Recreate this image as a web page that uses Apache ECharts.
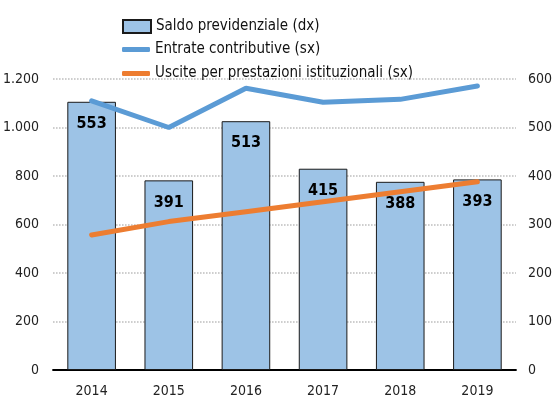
<!DOCTYPE html>
<html>
<head>
<meta charset="utf-8">
<script src="https://cdn.jsdelivr.net/npm/echarts@6/dist/echarts.min.js"></script>
<style>
  html, body { margin: 0; padding: 0; background: #fff; }
  #chart { width: 555px; height: 403px; }
</style>
</head>
<body>
<div id="chart"></div>
<script>
// dati
const years = ['2014', '2015', '2016', '2017', '2018', '2019']
const saldo = [553, 391, 513, 415, 388, 393]            // asse destro
const entrate = [1110, 1000, 1162, 1104, 1116, 1171]    // asse sinistro
const uscite = [557, 612, 653, 694, 735, 776]           // asse sinistro

const FONT = '"Liberation Sans Narrow", "DejaVu Sans Condensed", "Liberation Sans", sans-serif'

const fmt = v => String(v).replace(/\B(?=(\d{3})+(?!\d))/g, '.')

const chart = echarts.init(document.getElementById('chart'))

// una legenda per riga, così le icone delle linee restano barre spesse
const legendText = { fontSize: 15, color: '#111', fontFamily: FONT }
const mkLegend = (name, top, h, icon) => ({
  left: 117,
  top: top,
  itemWidth: 28,
  itemHeight: h,
  icon: icon,
  textStyle: legendText,
  data: [name]
})

const option = {
  animation: false,
  textStyle: { fontFamily: FONT },
  grid: { left: 53, right: 36, top: 79, bottom: 33 },
  legend: [
    mkLegend('Saldo previdenziale (dx)', 14, 13, 'rect'),
    mkLegend('Entrate contributive (sx)', 37, 5, 'roundRect'),
    mkLegend('Uscite per prestazioni istituzionali (sx)', 61, 5, 'roundRect')
  ],
  xAxis: {
    type: 'category',
    data: years,
    axisTick: { show: false },
    axisLine: { lineStyle: { color: '#000', width: 2 } },
    axisLabel: { color: '#222', fontSize: 14, margin: 14 }
  },
  yAxis: [
    {
      type: 'value',
      min: 0, max: 1200, interval: 200,
      axisLine: { show: false },
      axisTick: { show: false },
      axisLabel: { color: '#222', fontSize: 14, margin: 14, formatter: fmt },
      splitLine: { lineStyle: { type: 'dotted', color: '#bbb', width: 1.5 } }
    },
    {
      type: 'value',
      min: 0, max: 600, interval: 100,
      axisLine: { show: false },
      axisTick: { show: false },
      axisLabel: { color: '#222', fontSize: 14, margin: 12 },
      splitLine: { show: false }
    }
  ],
  series: [
    {
      name: 'Saldo previdenziale (dx)',
      type: 'bar',
      yAxisIndex: 1,
      data: saldo,
      barWidth: '63%',
      itemStyle: { color: '#9DC3E6', borderColor: '#1a1a1a', borderWidth: 1 },
      label: {
        show: true,
        position: 'insideTop',
        distance: 14,
        color: '#000',
        fontWeight: 'bold',
        fontSize: 16,
        fontFamily: FONT
      },
      z: 1
    },
    {
      name: 'Entrate contributive (sx)',
      type: 'line',
      yAxisIndex: 0,
      data: entrate,
      symbol: 'none',
      lineStyle: { color: '#5B9BD5', width: 5, cap: 'round' },
      itemStyle: { color: '#5B9BD5' },
      z: 3
    },
    {
      name: 'Uscite per prestazioni istituzionali (sx)',
      type: 'line',
      yAxisIndex: 0,
      data: uscite,
      symbol: 'none',
      lineStyle: { color: '#ED7D31', width: 5, cap: 'round' },
      itemStyle: { color: '#ED7D31' },
      z: 3
    }
  ]
}

chart.setOption(option)
</script>
</body>
</html>
